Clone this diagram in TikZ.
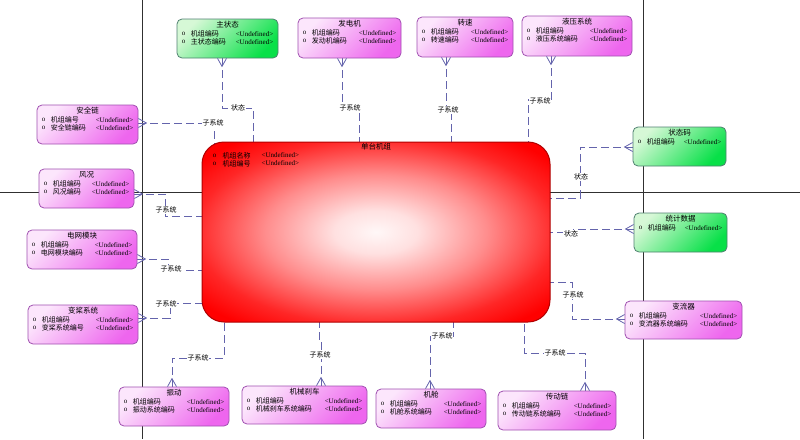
\documentclass[tikz,border=0pt]{standalone}
\usepackage{fontspec}
\setmainfont{Liberation Serif}
\newfontfamily\cjk{Noto Sans CJK SC}
\usetikzlibrary{calc,backgrounds}
\definecolor{relc}{HTML}{6464AC}
\definecolor{pinkA}{HTML}{FCE6FC}
\definecolor{pinkB}{HTML}{EE66EE}
\definecolor{pinkD}{HTML}{A050B0}
\definecolor{greenA}{HTML}{D6F8D6}
\definecolor{greenB}{HTML}{08E048}
\definecolor{greenD}{HTML}{508070}
\definecolor{unitD}{HTML}{B00000}
\definecolor{axisc}{HTML}{303030}
\pgfdeclareradialshading{unitshade}{\pgfpoint{0bp}{0bp}}{%
  rgb(0bp)=(1,0.97,0.97);
  rgb(6bp)=(1,0.88,0.88);
  rgb(16bp)=(1,0.55,0.55);
  rgb(26bp)=(1,0.15,0.15);
  rgb(32bp)=(1,0,0);
  rgb(50bp)=(1,0,0)}
\tikzset{
  pinkbox/.style={draw=pinkD, line width=0.8pt, rounded corners=5pt, inner sep=0pt,
    top color=pinkA, bottom color=pinkB, shading angle=45},
  greenbox/.style={draw=greenD, line width=0.8pt, rounded corners=5pt, inner sep=0pt,
    top color=greenA, bottom color=greenB, shading angle=45},
  unitbox/.style={draw=unitD, line width=1pt, rounded corners=22pt, inner sep=0pt,
    shade, shading=unitshade},
  ttl/.style={inner sep=0pt, font=\cjk\fontsize{7.5}{8}\selectfont},
  attr/.style={inner sep=0pt, anchor=west, font=\cjk\fontsize{7}{8}\selectfont},
  bul/.style={inner sep=0pt, font=\fontsize{7}{8}\selectfont},
  undef/.style={inner sep=0pt, anchor=east, font=\fontsize{7}{8}\selectfont},
  undefw/.style={inner sep=0pt, anchor=west, font=\fontsize{7}{8}\selectfont},
  rel/.style={draw=relc, line width=0.8pt, dash pattern=on 8pt off 4pt},
  relsolid/.style={draw=relc, line width=0.8pt},
  lbl/.style={fill=white, inner sep=0.8pt, font=\cjk\fontsize{7}{8}\selectfont},
  axisline/.style={draw=axisc, line width=0.8pt},
  crow/.pic={\draw[relsolid] (0,-4.5) -- (8,0) -- (0,4.5);}
}
\newcommand\entbox[7]{%
  \node[#2, minimum width={#5pt-#3pt}, minimum height={#6pt-#4pt}] (#1) at ({(#3+#5)/2},{(#4+#6)/2}) {};
  \node[ttl] at ($(#1.north)+(0,6)$) {#7};}
\newcommand\entrow[3]{%
  \node[bul] at ($(#1.north west)+(7,#2)$) {o};
  \node[attr] at ($(#1.north west)+(14,#2)$) {#3};
  \node[undef] at ($(#1.north east)+(-5,#2)$) {<Undefined>};}
\begin{document}
\begin{tikzpicture}[x=1pt,y=-1pt]
\useasboundingbox (0,0) rectangle (800,439);

% central entity
\node[unitbox, minimum width=348pt, minimum height=180pt] (unit) at (376,232) {};
\node[ttl] at ($(unit.north)+(0,5)$) {单台机组};
\node[bul] at ($(unit.north west)+(13,14)$) {o};
\node[attr] at ($(unit.north west)+(21,14)$) {机组名称};
\node[undefw] at ($(unit.north west)+(60,14)$) {<Undefined>};
\node[bul] at ($(unit.north west)+(13,22)$) {o};
\node[attr] at ($(unit.north west)+(21,22)$) {机组编号};
\node[undefw] at ($(unit.north west)+(60,22)$) {<Undefined>};

% entities
\entbox{zhu}{greenbox}{177}{19}{278}{58}{主状态}
\entrow{zhu}{15}{机组编码}\entrow{zhu}{23}{主状态编码}
\entbox{fdj}{pinkbox}{298}{18}{401}{58}{发电机}
\entrow{fdj}{15}{机组编码}\entrow{fdj}{23}{发动机编码}
\entbox{zs}{pinkbox}{417}{17}{513}{57}{转速}
\entrow{zs}{15}{机组编码}\entrow{zs}{23}{转速编码}
\entbox{yy}{pinkbox}{522}{16}{632}{56}{液压系统}
\entrow{yy}{15}{机组编码}\entrow{yy}{23}{液压系统编码}
\entbox{aq}{pinkbox}{37}{105}{138}{144}{安全链}
\entrow{aq}{15}{机组编号}\entrow{aq}{23}{安全链编码}
\entbox{fk}{pinkbox}{39}{169}{134}{208}{风况}
\entrow{fk}{15}{机组编码}\entrow{fk}{23}{风况编码}
\entbox{dw}{pinkbox}{27}{230}{137}{269}{电网模块}
\entrow{dw}{15}{机组编码}\entrow{dw}{23}{电网模块编码}
\entbox{bj}{pinkbox}{28}{305}{138}{344}{变桨系统}
\entrow{bj}{15}{机组编码}\entrow{bj}{23}{变桨系统编号}
\entbox{ztm}{greenbox}{633}{127}{726}{166}{状态码}
\entrow{ztm}{15}{机组编码}
\entbox{tj}{greenbox}{634}{213}{727}{252}{统计数据}
\entrow{tj}{15}{机组编码}
\entbox{bl}{pinkbox}{625}{301}{742}{339}{变流器}
\entrow{bl}{15}{机组编码}\entrow{bl}{23}{变流器系统编码}
\entbox{cd}{pinkbox}{498}{391}{616}{430}{传动链}
\entrow{cd}{15}{机组编码}\entrow{cd}{23}{传动链系统编码}
\entbox{jc}{pinkbox}{376}{389}{486}{428}{机舱}
\entrow{jc}{15}{机组编码}\entrow{jc}{23}{机舱系统编码}
\entbox{jx}{pinkbox}{242}{386}{367}{424}{机械刹车}
\entrow{jx}{15}{机组编码}\entrow{jx}{23}{机械刹车系统编码}
\entbox{zd}{pinkbox}{119}{387}{229}{426}{振动}
\entrow{zd}{15}{机组编码}\entrow{zd}{23}{振动系统编码}

\begin{pgfonlayer}{background}
\draw[axisline] (0,192) -- (800,192);
\draw[axisline] (142,0) -- (142,439);
\draw[axisline] (643,0) -- (643,439);

% top connectors
\draw[rel] (zhu.south -| 222,0) -- (222,108) -| (unit.center -| 253,0);
\draw[rel] (fdj.south -| 342,0) -- (342,108) -| (unit.center -| 359,0);
\draw[rel] (zs.south -| 446,0) -- (446,110) -| (unit.center -| 451,0);
\draw[rel] (yy.south -| 551,0) -- (551,99) -| (unit.center -| 528,0);
% left connectors
\draw[rel] (aq.east |- 0,123) -- (214,123) -- (unit.center -| 214,0);
\draw[rel] (fk.east |- 0,194) -- (165,194) |- (unit.center |- 0,216);
\draw[rel] (dw.east |- 0,259) -- (168,259) |- (unit.center |- 0,270);
\draw[rel] (bj.east |- 0,318) -- (170,318) |- (unit.center |- 0,303);
% right connectors
\draw[rel] (ztm.west |- 0,147) -- (580,147) |- (unit.center |- 0,198);
\draw[rel] (tj.west |- 0,229) -- (573,229) |- (unit.center |- 0,232);
\draw[rel] (bl.west |- 0,319) -- (572,319) |- (unit.center |- 0,282);
% bottom connectors
\draw[rel] (cd.north -| 585,0) -- (585,353) -| (unit.center -| 524,0);
\draw[rel] (jc.north -| 430,0) -- (430,336) -| (unit.center -| 453,0);
\draw[rel] (jx.north -| 321,0) -- (321,340) -| (unit.center -| 319,0);
\draw[rel] (zd.north -| 172,0) -- (172,358) -| (unit.center -| 224,0);
\end{pgfonlayer}

% crow's feet
\pic[rotate=-90] at (zhu.south -| 222,0) {crow};
\pic[rotate=-90] at (fdj.south -| 342,0) {crow};
\pic[rotate=-90] at (zs.south -| 446,0) {crow};
\pic[rotate=-90] at (yy.south -| 551,0) {crow};
\pic at (aq.east |- 0,123) {crow};
\pic at (fk.east |- 0,194) {crow};
\pic at (dw.east |- 0,259) {crow};
\pic at (bj.east |- 0,318) {crow};
\pic[rotate=180] at (ztm.west |- 0,147) {crow};
\pic[rotate=180] at (tj.west |- 0,229) {crow};
\pic[rotate=180] at (bl.west |- 0,319) {crow};
\pic[rotate=90] at (cd.north -| 585,0) {crow};
\pic[rotate=90] at (jc.north -| 430,0) {crow};
\pic[rotate=90] at (jx.north -| 321,0) {crow};
\pic[rotate=90] at (zd.north -| 172,0) {crow};

% labels
\node[lbl] (l1) at (238,108) {状态};
\node[lbl] (l2) at (350,108) {子系统};
\node[lbl] (l3) at (448,110) {子系统};
\node[lbl] (l4) at (540,101) {子系统};
\node[lbl] (l5) at (213,123) {子系统};
\node[lbl] (l6) at (166,210) {子系统};
\node[lbl] (l7) at (171,269) {子系统};
\node[lbl] (l8) at (166,304) {子系统};
\node[lbl] (l9) at (581,177) {状态};
\node[lbl] (l10) at (571,234) {状态};
\node[lbl] (l11) at (573,295) {子系统};
\node[lbl] (l12) at (555,353) {子系统};
\node[lbl] (l13) at (442,336) {子系统};
\node[lbl] (l14) at (320,355) {子系统};
\node[lbl] (l15) at (198,358) {子系统};
\end{tikzpicture}
\end{document}
